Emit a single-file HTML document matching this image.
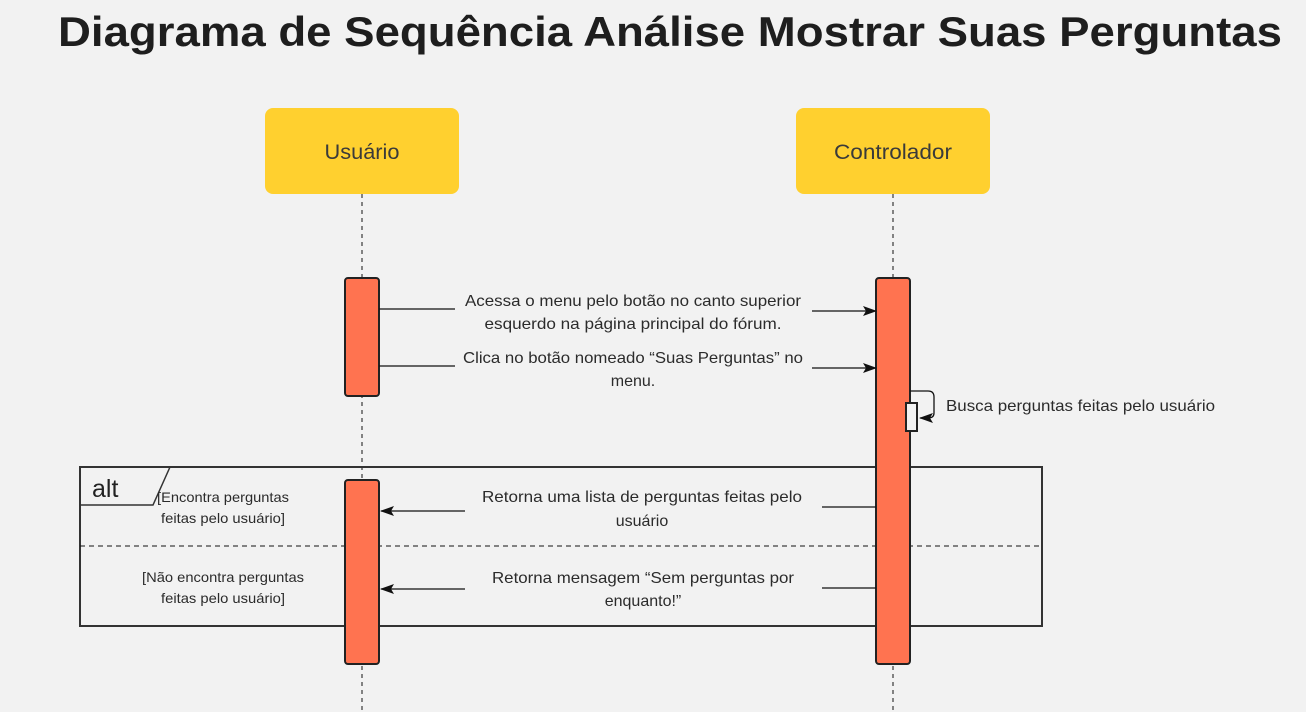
<!DOCTYPE html>
<html><head><meta charset="utf-8"><style>
html,body{margin:0;padding:0;background:#f2f2f2;}
svg{display:block;}
text{font-family:"Liberation Sans",sans-serif;fill:#2b2b2b;}
</style></head><body>
<svg width="1306" height="712" viewBox="0 0 1306 712" xmlns="http://www.w3.org/2000/svg">
<defs>
<marker id="ah" markerWidth="14" markerHeight="10" refX="13" refY="5" orient="auto" markerUnits="userSpaceOnUse">
<path d="M0,0 L14,5 L0,10 L3,5 Z" fill="#111"/>
</marker>
</defs>
<rect width="1306" height="712" fill="#f2f2f2"/>
<text x="58" y="46" font-size="42" font-weight="bold" textLength="1224" lengthAdjust="spacingAndGlyphs" style="fill:#1e1e1e">Diagrama de Sequência Análise Mostrar Suas Perguntas</text>

<line x1="362" y1="194" x2="362" y2="712" stroke="#111" stroke-width="1" stroke-dasharray="4,4"/>
<line x1="893" y1="194" x2="893" y2="712" stroke="#111" stroke-width="1" stroke-dasharray="4,4"/>

<rect x="265" y="108" width="194" height="86" rx="8" fill="#ffd02f"/>
<text x="362" y="159" font-size="21" text-anchor="middle" textLength="75" lengthAdjust="spacingAndGlyphs" style="fill:#3a3a3a">Usuário</text>
<rect x="796" y="108" width="194" height="86" rx="8" fill="#ffd02f"/>
<text x="893" y="159" font-size="21" text-anchor="middle" textLength="118" lengthAdjust="spacingAndGlyphs" style="fill:#3a3a3a">Controlador</text>

<rect x="80" y="467" width="962" height="159" fill="none" stroke="#333" stroke-width="2"/>
<path d="M80,505 L153,505 L170,467" fill="none" stroke="#333" stroke-width="1.5"/>
<text x="92" y="497" font-size="25" style="fill:#222">alt</text>
<line x1="80" y1="546" x2="1042" y2="546" stroke="#111" stroke-width="1" stroke-dasharray="5,4"/>
<text x="223" y="502" font-size="14" text-anchor="middle" textLength="132" lengthAdjust="spacingAndGlyphs">[Encontra perguntas</text>
<text x="223" y="523" font-size="14" text-anchor="middle" textLength="124" lengthAdjust="spacingAndGlyphs">feitas pelo usuário]</text>
<text x="223" y="582" font-size="14" text-anchor="middle" textLength="162" lengthAdjust="spacingAndGlyphs">[Não encontra perguntas</text>
<text x="223" y="603" font-size="14" text-anchor="middle" textLength="124" lengthAdjust="spacingAndGlyphs">feitas pelo usuário]</text>

<rect x="345" y="278" width="34" height="118" rx="3" fill="#ff7350" stroke="#222" stroke-width="2"/>
<rect x="345" y="480" width="34" height="184" rx="3" fill="#ff7350" stroke="#222" stroke-width="2"/>
<rect x="876" y="278" width="34" height="386" rx="3" fill="#ff7350" stroke="#222" stroke-width="2"/>
<rect x="906" y="403" width="11" height="28" fill="#f2f2f2" stroke="#222" stroke-width="2"/>

<line x1="379" y1="309" x2="455" y2="309" stroke="#111" stroke-width="1.3"/>
<line x1="812" y1="311" x2="876" y2="311" stroke="#111" stroke-width="1.3" marker-end="url(#ah)"/>
<text x="633" y="306" font-size="16" text-anchor="middle" textLength="336" lengthAdjust="spacingAndGlyphs">Acessa o menu pelo botão no canto superior</text>
<text x="633" y="329" font-size="16" text-anchor="middle" textLength="297" lengthAdjust="spacingAndGlyphs">esquerdo na página principal do fórum.</text>

<line x1="379" y1="366" x2="455" y2="366" stroke="#111" stroke-width="1.3"/>
<line x1="812" y1="368" x2="876" y2="368" stroke="#111" stroke-width="1.3" marker-end="url(#ah)"/>
<text x="633" y="363" font-size="16" text-anchor="middle" textLength="340" lengthAdjust="spacingAndGlyphs">Clica no botão nomeado “Suas Perguntas” no</text>
<text x="633" y="386" font-size="16" text-anchor="middle">menu.</text>

<path d="M910,391 L928,391 Q934,391 934,397 L934,413 Q934,418 928,418 L920,418" fill="none" stroke="#111" stroke-width="1.3" marker-end="url(#ah)"/>
<text x="946" y="411" font-size="16" textLength="269" lengthAdjust="spacingAndGlyphs">Busca perguntas feitas pelo usuário</text>

<line x1="876" y1="507" x2="822" y2="507" stroke="#111" stroke-width="1.3"/>
<line x1="465" y1="511" x2="381" y2="511" stroke="#111" stroke-width="1.3" marker-end="url(#ah)"/>
<text x="642" y="502" font-size="16" text-anchor="middle" textLength="320" lengthAdjust="spacingAndGlyphs">Retorna uma lista de perguntas feitas pelo</text>
<text x="642" y="526" font-size="16" text-anchor="middle">usuário</text>

<line x1="876" y1="588" x2="822" y2="588" stroke="#111" stroke-width="1.3"/>
<line x1="465" y1="589" x2="381" y2="589" stroke="#111" stroke-width="1.3" marker-end="url(#ah)"/>
<text x="643" y="583" font-size="16" text-anchor="middle" textLength="302" lengthAdjust="spacingAndGlyphs">Retorna mensagem “Sem perguntas por</text>
<text x="643" y="606" font-size="16" text-anchor="middle">enquanto!”</text>
</svg>
</body></html>
